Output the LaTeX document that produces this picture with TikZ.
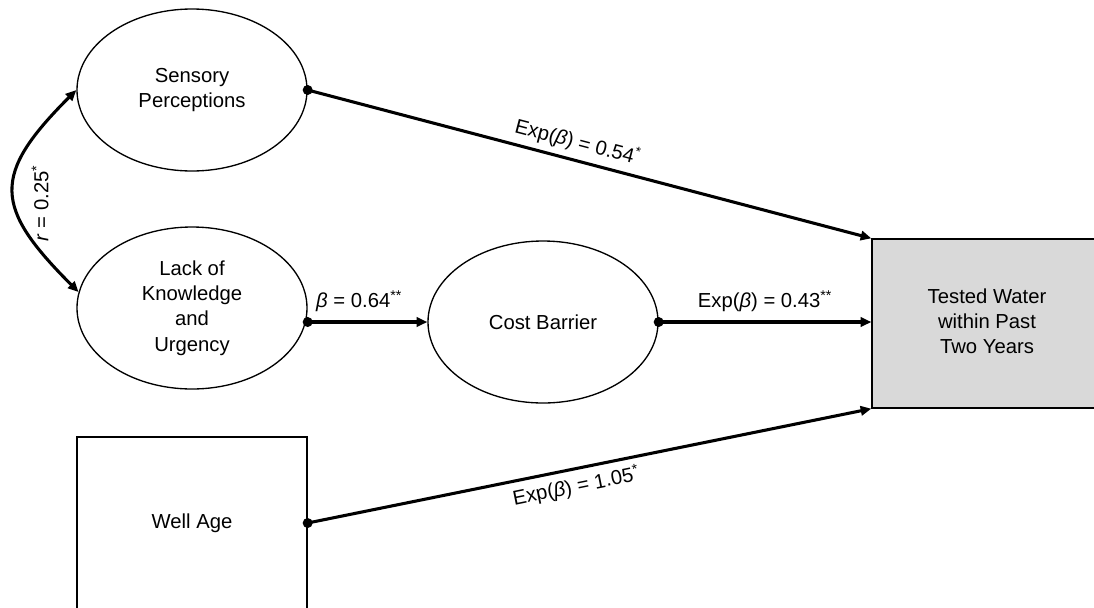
\documentclass[tikz,border=0pt]{standalone}
\usepackage{fontspec}
\setmainfont{Liberation Sans}
\usetikzlibrary{arrows.meta,shapes.geometric}
\begin{document}
\begin{tikzpicture}[x=0.75pt,y=-0.75pt,
  every node/.style={font=\fontsize{15.2}{19}\selectfont, align=center},
  latent/.style={ellipse, draw, line width=1pt, minimum width=172.5pt, minimum height=121.5pt, inner sep=0pt},
  observed/.style={rectangle, draw, line width=1pt, minimum width=172.5pt, inner sep=0pt},
  effect/.style={line width=2.3pt, -{Triangle[length=8pt,width=7pt]}},
  corr/.style={line width=2.3pt, {Triangle[length=8pt,width=7pt]}-{Triangle[length=8pt,width=7pt]}},
  startdot/.style={fill=black}
]
\useasboundingbox (0,0) rectangle (1094,607);

\node[latent] (sens) at (192,90) {Sensory\\Perceptions};
\node[latent] (lack) at (192,308) {Lack of\\Knowledge\\and\\Urgency};
\node[latent] (cost) at (543,322) {Cost Barrier};
\node[observed, fill=gray!30, minimum height=126.75pt] (tested) at (987,323.5)
  {\raisebox{3.75pt}{\begin{tabular}{@{}c@{}}Tested Water\\within Past\\Two Years\end{tabular}}};
\node[observed, minimum height=129pt] (well) at (192,523) {Well Age};

% correlation
\draw[corr] (lack.172) .. controls +(-85,-85) and +(-85,85) .. (sens.west);
\node[rotate=90] (rlab) at (40,203) {\textit{r} = 0.25\textsuperscript{*}};

% paths
\draw[effect] (sens.east) -- node[pos=0.47, sloped, above=1pt] {Exp(\textit{β}) = 0.54{\raisebox{0.75ex}{\fontsize{10}{10}\selectfont *}}} (tested.north west);
\fill[startdot] (sens.east) circle[radius=3.75pt];

\draw[effect] (lack.east |- cost.west) -- node[pos=0.43, above=3pt] {\textit{β} = 0.64\textsuperscript{**}} (cost.west);
\fill[startdot] (lack.east |- cost.west) circle[radius=3.75pt];

\draw[effect] (cost.east) -- node[pos=0.5, above=3pt] {Exp(\textit{β}) = 0.43\textsuperscript{**}} (tested.west |- cost.east);
\fill[startdot] (cost.east) circle[radius=3.75pt];

\draw[effect] (well.east) -- node[pos=0.47, sloped, below=1pt] {Exp(\textit{β}) = 1.05\textsuperscript{*}} (tested.south west);
\fill[startdot] (well.east) circle[radius=3.75pt];
\end{tikzpicture}
\end{document}
